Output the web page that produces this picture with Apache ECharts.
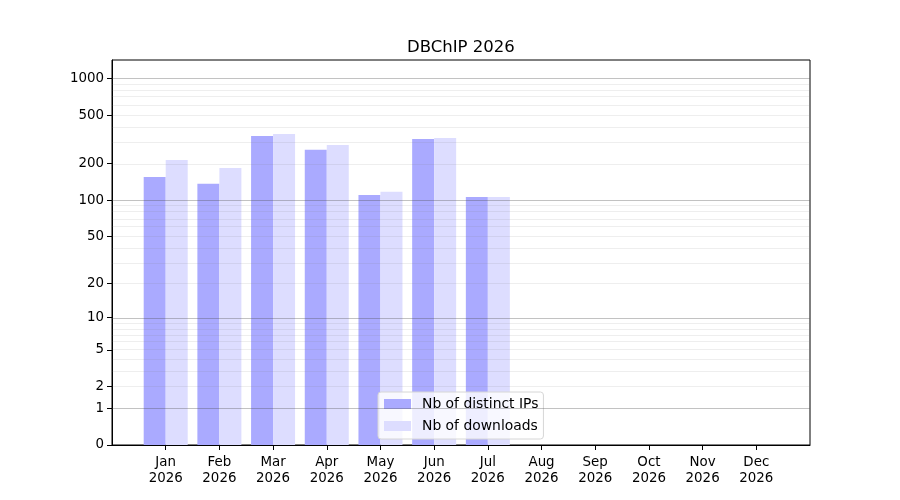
<!DOCTYPE html>
<html>
<head>
    <meta charset="utf-8">
    <script type="text/javascript" src="https://cdn.jsdelivr.net/npm/echarts@6/dist/echarts.min.js"></script>
    <style>
        body { margin: 0; background: #fff; }
    </style>
</head>
<body>
    <div id="main" style="width: 900px;height:500px;"></div>
    <script type="text/javascript">
    // monthly stats
    let months = ['Jan', 'Feb', 'Mar', 'Apr', 'May', 'Jun', 'Jul', 'Aug', 'Sep', 'Oct', 'Nov', 'Dec']
    let year = '2026'
    let distinctIPs = [155, 136, 337, 259, 110, 318, 106, 0, 0, 0, 0, 0]
    let downloads = [214, 184, 350, 284, 117, 324, 106, 0, 0, 0, 0, 0]
    let yTicks = [0, 1, 2, 5, 10, 20, 50, 100, 200, 500, 1000]
    let majorGrid = [1, 10, 100, 1000]
    let minorGrid = [2, 3, 4, 5, 6, 7, 8, 9, 20, 30, 40, 50, 60, 70, 80, 90, 200, 300, 400, 500, 600, 700, 800, 900]

    let font = 'DejaVu Sans'
    // y scale is log10(1 + n)
    let tr = v => Math.log10(1 + v)
    let pad = arr => [null].concat(arr.map(tr)).concat([null])
    let cats = [''].concat(months.map(m => m + '\n' + year)).concat([''])

    let myChart = echarts.init(document.getElementById('main'))
    let option = {
        animation: false,
        title: {
            text: 'DBChIP ' + year,
            left: 402,
            top: 34,
            textStyle: { fontFamily: font, fontSize: 16.5, fontWeight: 'normal', color: '#000' }
        },
        grid: {
            left: 112, right: 90, top: 60, bottom: 55,
            show: true, borderColor: '#000', borderWidth: 1, backgroundColor: 'transparent'
        },
        legend: {
            orient: 'vertical',
            left: 378,
            top: 392,
            padding: [5, 5, 6, 6],
            itemGap: 8,
            itemWidth: 27,
            itemHeight: 10,
            icon: 'rect',
            borderColor: '#d6d6d6',
            borderWidth: 1,
            borderRadius: 3,
            backgroundColor: 'rgba(255,255,255,0.8)',
            textStyle: { fontFamily: font, fontSize: 13.9, color: '#000', padding: [0, 0, 0, 6], lineHeight: 14 },
            data: ['Nb of distinct IPs', 'Nb of downloads']
        },
        xAxis: {
            type: 'category',
            boundaryGap: false,
            data: cats,
            axisLine: { lineStyle: { color: '#000', width: 1 } },
            axisTick: { length: 5, interval: (i) => i > 0 && i < cats.length - 1, lineStyle: { color: '#000' } },
            axisLabel: { interval: 0, margin: 10, fontFamily: font, fontSize: 13.4, color: '#000', lineHeight: 16 },
            splitLine: { show: false }
        },
        yAxis: {
            type: 'value',
            min: 0,
            max: 3.15,
            axisLine: { show: true, lineStyle: { color: '#000', width: 1 } },
            axisTick: { show: true, length: 5, customValues: yTicks.map(tr), lineStyle: { color: '#000' } },
            axisLabel: {
                customValues: yTicks.map(tr),
                margin: 8,
                fontFamily: font, fontSize: 13.4, color: '#000',
                formatter: v => String(Math.round(Math.pow(10, v) - 1))
            },
            splitLine: { show: false }
        },
        series: [{
            name: 'Nb of distinct IPs',
            type: 'bar',
            barWidth: 22,
            barGap: '0%',
            itemStyle: { color: '#aaaaff' },
            data: pad(distinctIPs)
        }, {
            name: 'Nb of downloads',
            type: 'bar',
            barWidth: 22,
            barGap: '0%',
            itemStyle: { color: '#ddddff' },
            data: pad(downloads)
        }, {
            name: 'grid',
            type: 'line',
            z: 10,
            silent: true,
            data: [],
            markLine: {
                silent: true,
                symbol: 'none',
                label: { show: false },
                data: minorGrid.map(v => ({ yAxis: tr(v), lineStyle: { color: 'rgba(120,120,120,0.13)', width: 1, type: 'solid' } }))
                    .concat(majorGrid.map(v => ({ yAxis: tr(v), lineStyle: { color: 'rgba(80,80,80,0.35)', width: 1, type: 'solid' } })))
            }
        }]
    }
    myChart.setOption(option)
    </script>
</body>
</html>
